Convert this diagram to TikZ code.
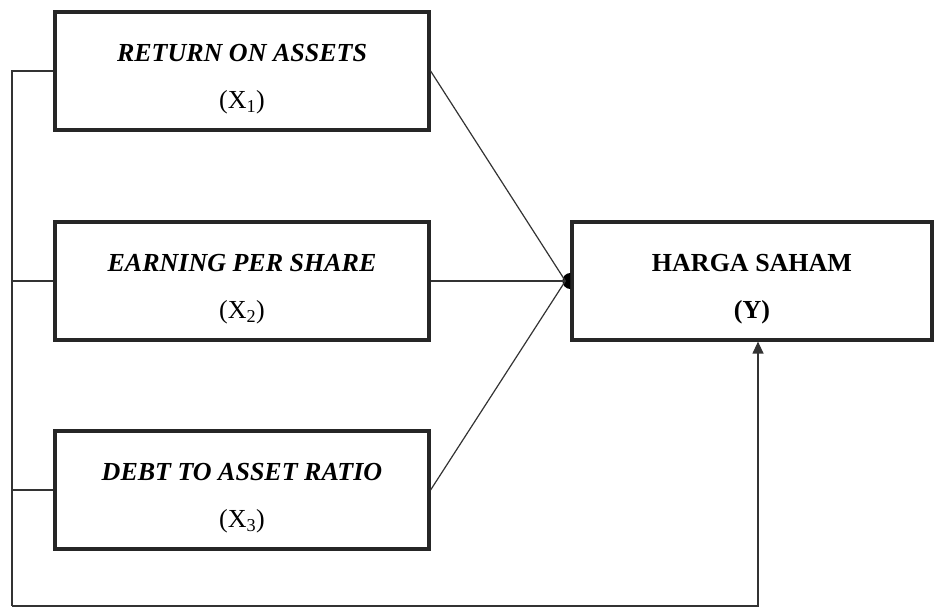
\documentclass[tikz,border=0pt]{standalone}
\usepackage{fontspec}
\setmainfont{Liberation Serif}
\usetikzlibrary{arrows.meta,positioning}

\begin{document}
\begin{tikzpicture}[x=1pt,y=1pt,
    varbox/.style={draw=black!85,line width=3.2pt,minimum width=374pt,minimum height=118pt,align=center,font=\fontsize{26}{47}\selectfont,text height=81pt,text depth=6pt},
    link/.style={black!80,line width=1.2pt}]
    \useasboundingbox (0,0) rectangle (934,608);
    \node[varbox] (x1) at (242,537) {\textbf{\textit{RETURN ON ASSETS}}\\(X\textsubscript{1})};
    \node[varbox] (x2) at (242,327) {\textbf{\textit{EARNING PER SHARE}}\\(X\textsubscript{2})};
    \node[varbox] (x3) at (242,118) {\textbf{\textit{DEBT TO ASSET RATIO}}\\(X\textsubscript{3})};
    \node[varbox,minimum width=360pt] (y) at (752,327) {\textbf{HARGA SAHAM}\\\textbf{(Y)}};
    \coordinate (jn) at ([xshift=-5pt]y.west);
    \fill[black] ([yshift=8pt]y.west) arc (90:270:8pt) -- cycle;
    \draw[link] (x1.east) -- (jn);
    \draw[link] (x2.east) -- (jn);
    \draw[link] (x3.east) -- (jn);
    % common line along the left and the bottom
    \coordinate (corner) at (12,2);
    \draw[link] (x1.west) -- (x1.west -| corner) -- (corner);
    \draw[link] (x2.west) -- (x2.west -| corner);
    \draw[link] (x3.west) -- (x3.west -| corner);
    \draw[link,-{Triangle[length=12pt,width=11pt]}] (corner) -| ([xshift=6pt]y.south);
\end{tikzpicture}
\end{document}
